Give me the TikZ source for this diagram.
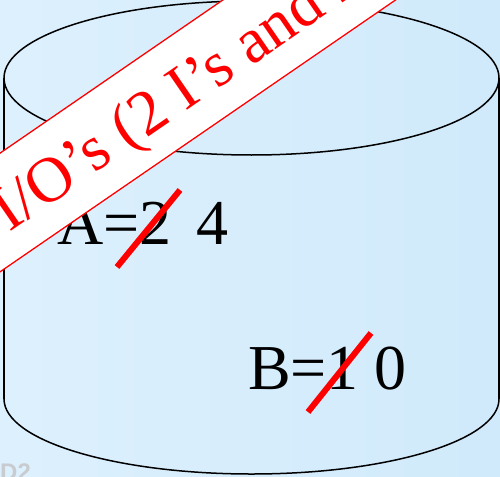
\documentclass[tikz,border=0pt]{standalone}
\usepackage{fontspec}
\setmainfont{Liberation Serif}
\newfontfamily\dfont{Liberation Sans}
\definecolor{bgleft}{RGB}{221,240,253}
\definecolor{bgright}{RGB}{208,234,251}
\definecolor{dgray}{RGB}{200,204,208}
\tikzset{
  outline/.style={draw=black, line width=1.5pt},
  bigtext/.style={inner sep=0pt, anchor=base west, font=\fontsize{64}{70}\selectfont},
  strike/.style={draw=red, line width=6pt},
  banner/.style={draw=red, fill=white, line width=1.3pt},
  bannertext/.style={inner sep=0pt, anchor=base west, rotate=34.5, text=red, font=\fontsize{64}{70}\selectfont}
}
\begin{document}
\begin{tikzpicture}[x=1pt, y=-1pt]
\useasboundingbox (0,0) rectangle (500,476);
\clip (0,0) rectangle (500,476);
\fill[left color=bgleft, right color=bgright] (0,0) rectangle (500,476);
\node[inner sep=0pt, anchor=base west, text=dgray, font=\dfont\bfseries\fontsize{24}{26}\selectfont] (d2) at (0,480) {D2};
% cylinder
\draw[outline] (251.5,78) ellipse [x radius=247.5, y radius=77];
\coordinate (tl) at (4,78);
\coordinate (bl) at (4,399);
\coordinate (tr) at (499,78);
\coordinate (br) at (499,399);
\draw[outline] (tl) -- (bl);
\draw[outline] (tr) -- (br);
\begin{scope}
\clip (0,399) rectangle (500,480);
\draw[outline] (251.5,399) ellipse [x radius=247.5, y radius=75];
\end{scope}
% values
\node[bigtext] (a) at (57,244) {A=2\hspace{25pt}4};
\node[bigtext] (b) at (248,389) {B=1 0};
\coordinate (s1a) at (117,267);
\coordinate (s1b) at (180,190);
\coordinate (s2a) at (308,412);
\coordinate (s2b) at (371,333);
\draw[strike] (s1a) -- (s1b);
\draw[strike] (s2a) -- (s2b);
% banner
\coordinate (p1) at (-93.3,217.3);
\coordinate (p2) at (500,-190.5);
\coordinate (p3) at (555.4,-109.9);
\coordinate (p4) at (-37.9,297.9);
\draw[banner] (p1) -- (p2) -- (p3) -- (p4) -- cycle;
\node[bannertext] (io) at (-29.9,259.6) {4 I/O’s (2 I’s and 2 O’s)};
\end{tikzpicture}
\end{document}
